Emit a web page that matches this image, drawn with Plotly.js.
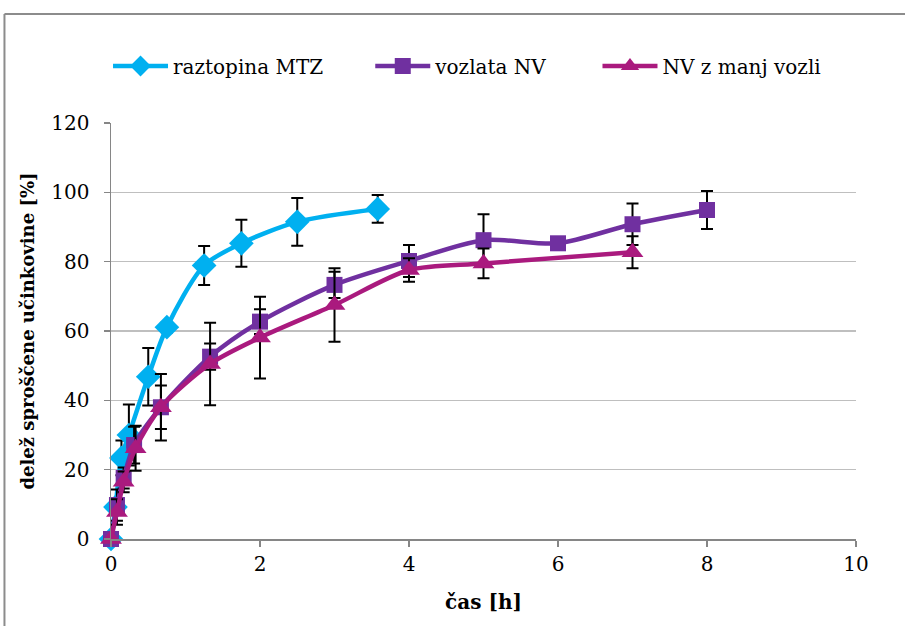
<!DOCTYPE html>
<html>
<head>
<meta charset="utf-8">
<script src="https://cdn.plot.ly/plotly-3.0.1.min.js"></script>
<style>html,body{margin:0;padding:0;background:#fff;}#chart{width:905px;height:626px;}</style>
</head>
<body>
<div id="chart"></div>
<script>
const seriesNames = ["raztopina MTZ", "vozlata NV", "NV z manj vozli"];

const tMTZ = [0, 0.06, 0.14, 0.24, 0.5, 0.75, 1.25, 1.75, 2.5, 3.58];
const yMTZ = [0, 9.2, 23.4, 30.0, 46.8, 61.1, 78.9, 85.3, 91.5, 95.2];
const eMTZ = [0, 2, 5, 8.8, 8.3, 1.5, 5.6, 6.8, 6.9, 4.0];

const tVNV = [0, 0.08, 0.17, 0.31, 0.67, 1.33, 2, 3, 4, 5, 6, 7, 8];
const yVNV = [0, 9.8, 17.6, 27.1, 38.0, 52.6, 62.7, 73.3, 80.2, 86.2, 85.3, 90.8, 94.9];
const eVNV = [0, 4.5, 3, 5.3, 6.3, 3.8, 3.6, 3.8, 4.6, 7.5, 0, 6.0, 5.5];

const tMV = [0, 0.08, 0.17, 0.33, 0.67, 1.33, 2, 3, 4, 5, 7];
const yMV = [0, 7.8, 16.5, 26.2, 38.0, 50.5, 58.1, 67.5, 77.6, 79.5, 82.7];
const eMV = [0, 3.7, 3, 6.5, 9.6, 11.9, 11.8, 10.6, 3.4, 4.3, 4.6];

const xTicks = [0, 2, 4, 6, 8, 10];
const yTicks = [0, 20, 40, 60, 80, 100, 120];

const colors = ["#00B0F0", "#7030A0", "#AA1A7E"];
const symbols = ["diamond", "square", "triangle-up"];
const msizes = [19, 16, 19];
const legendIds = ["legend", "legend2", "legend3"];

function mk(i, x, y, e) {
  return {
    x: x, y: y, name: seriesNames[i], type: "scatter", mode: "lines+markers",
    legend: legendIds[i],
    line: {color: colors[i], width: 4.5, shape: "spline", smoothing: 0.8},
    marker: {color: colors[i], symbol: symbols[i], size: msizes[i]},
    error_y: {type: "data", array: e, visible: true, color: "#000", thickness: 2, width: 6},
    cliponaxis: false
  };
}

const data = [mk(0, tMTZ, yMTZ, eMTZ), mk(1, tVNV, yVNV, eVNV), mk(2, tMV, yMV, eMV)];

const font = "DejaVu Serif";
function leg(x) {
  return {orientation: "h", x: x, xanchor: "left", y: 1.137, yanchor: "middle",
          font: {family: font, size: 20, color: "#000"}, itemwidth: 55, bgcolor: "rgba(0,0,0,0)"};
}
const layout = {
  width: 905, height: 626,
  margin: {l: 111, r: 49, t: 123, b: 87},
  paper_bgcolor: "#fff", plot_bgcolor: "#fff",
  font: {family: font, size: 20, color: "#000"},
  showlegend: true,
  legend: leg(-0.004),
  legend2: leg(0.348),
  legend3: leg(0.653),
  xaxis: {range: [0, 10], tickvals: xTicks, ticktext: xTicks.map(String),
          showgrid: false, zeroline: false, showline: true, linecolor: "#868686", linewidth: 1.5,
          ticks: "outside", ticklen: 6, tickcolor: "#868686", tickwidth: 1.5,
          tickfont: {family: font, size: 20}, fixedrange: true,
          title: {text: "<b>čas [h]</b>", font: {family: font, size: 20}, standoff: 20}},
  yaxis: {range: [0, 120], tickvals: yTicks, ticktext: yTicks.map(String),
          showgrid: true, gridcolor: "#BFBFBF", gridwidth: 1.2, zeroline: false,
          showline: true, linecolor: "#868686", linewidth: 1.5,
          ticks: "outside", ticklen: 6, tickcolor: "#868686", tickwidth: 1.5,
          ticklabelstandoff: 10,
          tickfont: {family: font, size: 20}, fixedrange: true,
          title: {text: "<b>delež sproščene učinkovine [%]</b>", font: {family: font, size: 18}, standoff: 12}},
  shapes: [
    {type: "line", xref: "paper", yref: "paper", x0: -0.143, x1: -0.143, y0: -0.5, y1: 1.262,
     line: {color: "#8C8C8C", width: 2}},
    {type: "line", xref: "paper", yref: "paper", x0: -0.143, x1: 1.5, y0: 1.262, y1: 1.262,
     line: {color: "#8C8C8C", width: 2}}
  ]
};

Plotly.newPlot("chart", data, layout, {staticPlot: true, displayModeBar: false});
</script>
</body>
</html>
